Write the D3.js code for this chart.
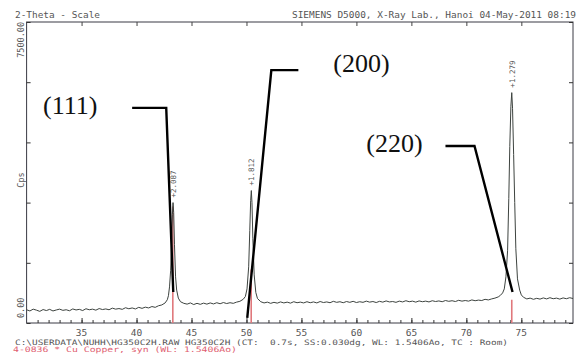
<!DOCTYPE html>
<html>
<head>
<meta charset="utf-8">
<script src="https://cdn.jsdelivr.net/npm/d3@7"></script>
<style>
  body { margin: 0; background: #fff; }
  svg { display: block; }
  .mono { font-family: "DejaVu Sans Mono", "Liberation Mono", monospace; fill: #555; }
  .hkl { font-family: "Liberation Serif", "Times New Roman", serif; font-size: 26px; fill: #111; }
</style>
</head>
<body>
<svg id="chart" width="577" height="354"></svg>
<script>
// scan points: [2-theta deg, counts]
var scan = [
  [30.0, 330], [30.3, 300], [30.6, 345], [30.9, 320], [31.2, 290], [31.5, 335], [31.8, 310], [32.1, 340],
  [32.4, 300], [32.7, 325], [33.0, 345], [33.3, 315], [33.6, 330], [33.9, 305], [34.2, 350], [34.5, 325],
  [34.8, 340], [35.1, 310], [35.4, 355], [35.7, 330], [36.0, 345], [36.3, 320], [36.6, 360], [36.9, 335],
  [37.2, 350], [37.5, 330], [37.8, 370], [38.1, 345], [38.4, 360], [38.7, 340], [39.0, 380], [39.3, 355],
  [39.6, 375], [39.9, 350], [40.2, 390], [40.5, 365], [40.8, 395], [41.1, 375], [41.4, 410], [41.7, 390],
  [42.0, 430], [42.3, 450], [42.6, 500], [42.8, 580], [42.9, 680], [43.0, 900], [43.1, 1300], [43.2, 2100],
  [43.26, 2700], [43.32, 3000], [43.38, 2750], [43.45, 1950], [43.55, 1150], [43.65, 820], [43.8, 620],
  [44.0, 530], [44.3, 490], [44.6, 470], [44.9, 500], [45.2, 460], [45.5, 490], [45.8, 465], [46.1, 495],
  [46.4, 470], [46.7, 500], [47.0, 475], [47.3, 505], [47.6, 480], [47.9, 510], [48.2, 485], [48.5, 505],
  [48.8, 490], [49.1, 520], [49.4, 540], [49.7, 590], [49.9, 660], [50.05, 850], [50.2, 1400], [50.3, 2300],
  [50.38, 3050], [50.44, 3300], [50.5, 3000], [50.58, 2100], [50.7, 1200], [50.85, 760], [51.0, 610],
  [51.3, 530], [51.6, 500], [51.9, 520], [52.2, 490], [52.5, 515], [52.8, 495], [53.1, 525], [53.4, 500],
  [53.7, 520], [54.0, 495], [54.3, 530], [54.6, 505], [54.9, 520], [55.2, 500], [55.5, 530], [55.8, 505],
  [56.1, 525], [56.4, 500], [56.7, 535], [57.0, 510], [57.3, 525], [57.6, 505], [57.9, 540], [58.2, 515],
  [58.5, 530], [58.8, 505], [59.1, 535], [59.4, 515], [59.7, 540], [60.0, 510], [60.3, 530], [60.6, 515],
  [60.9, 545], [61.2, 520], [61.5, 535], [61.8, 510], [62.1, 540], [62.4, 520], [62.7, 550], [63.0, 525],
  [63.3, 535], [63.6, 515], [63.9, 545], [64.2, 525], [64.5, 555], [64.8, 530], [65.1, 545], [65.4, 520],
  [65.7, 550], [66.0, 530], [66.3, 545], [66.6, 525], [66.9, 555], [67.2, 535], [67.5, 550], [67.8, 530],
  [68.1, 560], [68.4, 540], [68.7, 555], [69.0, 535], [69.3, 565], [69.6, 545], [69.9, 560], [70.2, 545],
  [70.5, 575], [70.8, 555], [71.1, 570], [71.4, 560], [71.7, 590], [72.0, 575], [72.3, 600], [72.6, 620],
  [72.9, 650], [73.1, 690], [73.3, 750], [73.45, 850], [73.6, 1150], [73.75, 1800], [73.86, 3100],
  [73.95, 4400], [74.05, 5400], [74.13, 5740], [74.2, 5350], [74.3, 4200], [74.4, 3000], [74.5, 1850],
  [74.65, 1100], [74.85, 820], [75.0, 700], [75.2, 640], [75.5, 600], [75.8, 620], [76.1, 590], [76.4, 615],
  [76.7, 595], [77.0, 625], [77.3, 600], [77.6, 630], [77.9, 605], [78.2, 620], [78.5, 595], [78.8, 625],
  [79.1, 605], [79.4, 630], [79.7, 610]
];

// Cu reference sticks (4-0836)
var refTheta = [43.30, 50.43, 74.13];
var refIntensity = [100, 46, 20];
var refScale = 2900; // counts drawn for 100 %

// d-spacing marks above the peaks
var peakTheta = [43.32, 50.44, 74.13];
var peakCounts = [3000, 3300, 5740];
var dLabels = ["+2.087", "+1.812", "+1.279"];

// hand-drawn (hkl) call-outs
var hklLabels = ["(111)", "(200)", "(220)"];
var hklTextAt = [[31.5, 5200], [57.9, 6250], [60.9, 4260]];
var hklArmFrom = [39.6, 54.72, 68.1];
var hklElbow = [[42.7, 5360], [52.26, 6300], [70.74, 4410]];
var hklTip = [[43.34, 772], [50.07, 125], [74.2, 772]];

var xMajor = [35, 40, 45, 50, 55, 60, 65, 70, 75];
var yTicks = [0, 1500, 3000, 4500, 6000, 7500];

var svg = d3.select("#chart");
var x = d3.scaleLinear().domain([30, 79.7]).range([26.6, 573]);
var y = d3.scaleLinear().domain([0, 7500]).range([323, 22]);

// frame
svg.append("rect")
    .attr("x", x(30)).attr("y", y(7500))
    .attr("width", x(79.7) - x(30)).attr("height", y(0) - y(7500))
    .attr("fill", "none").attr("stroke", "#3a3a44").attr("stroke-width", 1);

// bottom axis, ticks pointing into the plot
var minor = d3.range(31, 80, 1);
svg.append("g")
    .attr("transform", "translate(0," + y(0) + ")")
    .call(d3.axisTop(x).tickValues(minor).tickSize(3).tickFormat(""))
    .call(function (g) { g.select(".domain").remove(); g.selectAll("line").attr("stroke", "#333"); });
svg.append("g")
    .attr("transform", "translate(0," + y(0) + ")")
    .call(d3.axisTop(x).tickValues(xMajor).tickSize(5).tickFormat(""))
    .call(function (g) { g.select(".domain").remove(); g.selectAll("line").attr("stroke", "#333"); });
svg.selectAll(".xlab")
    .data(xMajor)
    .enter().append("text")
    .attr("class", "mono")
    .attr("x", function (d) { return x(d); })
    .attr("y", 336)
    .attr("text-anchor", "middle")
    .attr("font-size", "9.5px")
    .text(function (d) { return d; });

// top axis ticks
svg.append("g")
    .attr("transform", "translate(0," + y(7500) + ")")
    .call(d3.axisBottom(x).tickValues(xMajor).tickSize(4).tickFormat(""))
    .call(function (g) { g.select(".domain").remove(); g.selectAll("line").attr("stroke", "#444"); });

// left and right axis ticks
svg.append("g")
    .attr("transform", "translate(" + x(30) + ",0)")
    .call(d3.axisRight(y).tickValues(yTicks).tickSize(4).tickFormat(""))
    .call(function (g) { g.select(".domain").remove(); g.selectAll("line").attr("stroke", "#333"); });
svg.append("g")
    .attr("transform", "translate(" + x(79.7) + ",0)")
    .call(d3.axisLeft(y).tickValues(yTicks).tickSize(4).tickFormat(""))
    .call(function (g) { g.select(".domain").remove(); g.selectAll("line").attr("stroke", "#333"); });

// y labels, rotated
function vText(txt, tx, ty, anchor) {
    svg.append("text")
        .attr("class", "mono")
        .attr("font-size", "8.5px")
        .attr("text-anchor", anchor)
        .attr("transform", "translate(" + tx + "," + ty + ") rotate(-90)")
        .text(txt);
}
vText("7500.00", 23.5, y(7500), "end");
vText("0.00", 23.5, y(0) - 5, "start");
vText("Cps", 23.5, 180, "middle");

// reference sticks
svg.selectAll(".ref")
    .data(refTheta)
    .enter().append("line")
    .attr("x1", function (d) { return x(d); })
    .attr("x2", function (d) { return x(d); })
    .attr("y1", y(0))
    .attr("y2", function (d, i) { return y(refIntensity[i] / 100 * refScale); })
    .attr("stroke", "#e0787c")
    .attr("stroke-width", 1.6);

// scan trace
var line = d3.line()
    .x(function (d) { return x(d[0]); })
    .y(function (d) { return y(d[1]); });
svg.append("path")
    .datum(scan)
    .attr("d", line)
    .attr("fill", "none")
    .attr("stroke", "#3d433f")
    .attr("stroke-width", 1);

// d-spacing labels
svg.selectAll(".dlab")
    .data(dLabels)
    .enter().append("text")
    .attr("class", "mono")
    .attr("font-size", "7.5px")
    .attr("transform", function (d, i) {
        return "translate(" + (x(peakTheta[i]) + 3) + "," + (y(peakCounts[i]) - 5) + ") rotate(-90)";
    })
    .text(function (d) { return d; });

// call-outs
hklLabels.forEach(function (lab, i) {
    var e = hklElbow[i], t = hklTip[i];
    svg.append("path")
        .attr("d", "M" + x(hklArmFrom[i]) + "," + y(e[1]) +
                   "L" + x(e[0]) + "," + y(e[1]) +
                   "L" + x(t[0]) + "," + y(t[1]))
        .attr("fill", "none")
        .attr("stroke", "#000")
        .attr("stroke-width", 2.4)
        .attr("stroke-linejoin", "miter");
    svg.append("text")
        .attr("class", "hkl")
        .attr("x", x(hklTextAt[i][0]))
        .attr("y", y(hklTextAt[i][1]))
        .text(lab);
});

// header / footer text
svg.append("text").attr("class", "mono").attr("font-size", "8.5px")
    .attr("x", 15).attr("y", 17.5).attr("textLength", 85).attr("lengthAdjust", "spacingAndGlyphs")
    .text("2-Theta - Scale");
svg.append("text").attr("class", "mono").attr("font-size", "8.5px")
    .attr("x", 292).attr("y", 17.5).attr("textLength", 284).attr("lengthAdjust", "spacingAndGlyphs")
    .text("SIEMENS D5000, X-Ray Lab., Hanoi 04-May-2011 08:19");
svg.append("text").attr("class", "mono").attr("font-size", "7.5px")
    .attr("x", 15).attr("y", 344.5).attr("textLength", 493).attr("lengthAdjust", "spacingAndGlyphs")
    .attr("xml:space", "preserve")
    .text("C:\\USERDATA\\NUHH\\HG350C2H.RAW HG350C2H (CT:  0.7s, SS:0.030dg, WL: 1.5406Ao, TC : Room)");
svg.append("text").attr("class", "mono").attr("font-size", "7.5px")
    .attr("x", 13).attr("y", 352).attr("textLength", 224).attr("lengthAdjust", "spacingAndGlyphs")
    .style("fill", "#e06070")
    .text("4-0836 * Cu Copper, syn (WL: 1.5406Ao)");
</script>
</body>
</html>
